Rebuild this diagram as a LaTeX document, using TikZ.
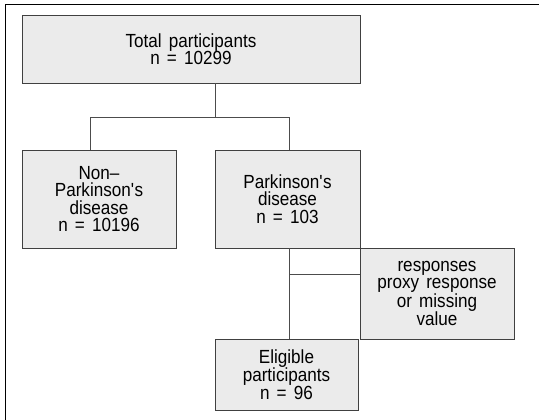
\documentclass[tikz,border=0pt]{standalone}
\usepackage{fontspec}
\setmainfont[FakeStretch=0.9,WordSpace=1.5,Ligatures=NoCommon]{Liberation Sans}
\begin{document}
\begin{tikzpicture}[x=1pt,y=-1pt,
  box/.style={draw=black!75,line width=0.9pt,fill=black!8,inner sep=0pt,
    align=center,font=\fontsize{19}{17.4}\selectfont},
  conn/.style={draw=black!70,line width=0.9pt}]
\useasboundingbox (0,0) rectangle (539,420);
\draw[line width=1.3pt] (5.5,420) -- (5.5,4.5) -- (539,4.5);
\node[box,minimum width=338,minimum height=68] (top) at (191,49) {Total participants\\n = 10299};
\node[box,minimum width=154,minimum height=98] (non) at (99,199) {Non–\\Parkinson\textquotesingle s\\disease\\n = 10196};
\node[box,minimum width=145,minimum height=98] (pd) at (287.5,199) {Parkinson\textquotesingle s\\disease\\n = 103};
\node[box,minimum width=154,minimum height=91] (resp) at (437,293.5) {responses\\proxy response\\or missing\\value};
\node[box,minimum width=143,minimum height=71] (elig) at (286.5,374.5) {Eligible\\participants\\n = 96};
\coordinate (j1) at (215,117);
\coordinate (jl) at (90,117);
\coordinate (jr) at (289,117);
\coordinate (j2) at (289,274);
\draw[conn] (top.south -| j1) -- (j1);
\draw[conn] (non.north -| jl) -- (jl) -- (jr) -- (pd.north -| jr);
\draw[conn] (pd.south -| j2) -- (elig.north -| j2);
\draw[conn] (j2) -- (resp.west |- j2);
\end{tikzpicture}
\end{document}
